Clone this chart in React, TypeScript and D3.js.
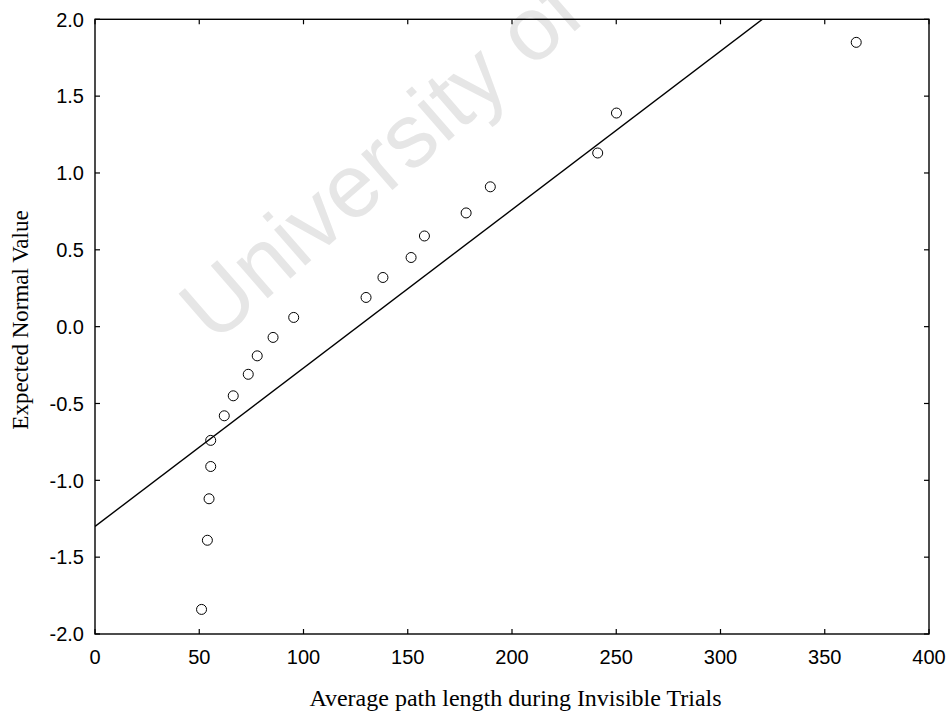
import React from "react";
import * as d3 from "d3";

// average path length (x) vs expected normal value (y)
const pathLength = [51.1, 53.9, 54.7, 55.5, 55.5, 62.0, 66.3, 73.5, 77.8, 85.4, 95.3, 130.0, 138.1, 151.6, 158.0, 178.0, 189.6, 241.1, 250.1, 365.1];
const expectedNormal = [-1.84, -1.39, -1.12, -0.91, -0.74, -0.58, -0.45, -0.31, -0.19, -0.07, 0.06, 0.19, 0.32, 0.45, 0.59, 0.74, 0.91, 1.13, 1.39, 1.85];

const fitIntercept = -1.30;
const fitSlope = 0.01031;

const xTicks = [0, 50, 100, 150, 200, 250, 300, 350, 400];
const yTicks = [-2.0, -1.5, -1.0, -0.5, 0.0, 0.5, 1.0, 1.5, 2.0];

const xTitle = "Average path length during Invisible Trials";
const yTitle = "Expected Normal Value";
const watermark = "University of Cape Town";

const width = 949, height = 714;
const left = 95, right = 929, top = 19.3, bottom = 634;
const tickLen = 5;

const App = () => {
    const xScale = d3.scaleLinear().domain([0, 400]).range([left, right]);
    const yScale = d3.scaleLinear().domain([-2, 2]).range([bottom, top]);

    const fitPts: [number, number][] = [0, 400].map(v => [v, fitIntercept + fitSlope * v]);
    const lineGen = d3.line<[number, number]>()
        .x(d => xScale(d[0]))
        .y(d => yScale(d[1]));

    const points = pathLength.map((v, i) => ({ x: v, y: expectedNormal[i] }));

    const tickFont = "'Liberation Sans', Arial, sans-serif";
    const titleFont = "'Liberation Serif', 'Times New Roman', serif";

    return (
        <svg width={width} height={height} style={{ position: "absolute", left: 0, top: 0, background: "#fff" }}>
            <defs>
                <clipPath id="plot-clip">
                    <rect x={left} y={top} width={right - left} height={bottom - top} />
                </clipPath>
            </defs>
            <text
                transform="translate(214,345) rotate(-41)"
                fontFamily={tickFont}
                fontSize={90}
                fill="#e6e6e6"
            >{watermark}</text>

            <path d={lineGen(fitPts) ?? ""} fill="none" stroke="#000" strokeWidth={1.4} clipPath="url(#plot-clip)" />

            {points.map((p, i) => (
                <circle key={i} cx={xScale(p.x)} cy={yScale(p.y)} r={5} fill="none" stroke="#000" strokeWidth={1} />
            ))}

            <rect x={left} y={top} width={right - left} height={bottom - top} fill="none" stroke="#000" strokeWidth={1.4} />

            {xTicks.map(t => (
                <g key={"x" + t}>
                    <line x1={xScale(t)} x2={xScale(t)} y1={bottom} y2={bottom - tickLen} stroke="#000" strokeWidth={1.2} />
                    <line x1={xScale(t)} x2={xScale(t)} y1={top} y2={top + tickLen} stroke="#000" strokeWidth={1.2} />
                    <text x={xScale(t)} y={664} textAnchor="middle" fontFamily={tickFont} fontSize={20} fill="#000">{t}</text>
                </g>
            ))}
            {yTicks.map(t => (
                <g key={"y" + t}>
                    <line x1={left} x2={left + tickLen} y1={yScale(t)} y2={yScale(t)} stroke="#000" strokeWidth={1.2} />
                    <line x1={right} x2={right - tickLen} y1={yScale(t)} y2={yScale(t)} stroke="#000" strokeWidth={1.2} />
                    <text x={84} y={yScale(t)} dy="0.36em" textAnchor="end" fontFamily={tickFont} fontSize={20} fill="#000">{t.toFixed(1)}</text>
                </g>
            ))}

            <text x={(306 + 725) / 2} y={706} textAnchor="middle" fontFamily={titleFont} fontSize={24} fill="#000">{xTitle}</text>
            <text transform="translate(28,320) rotate(-90)" textAnchor="middle" fontFamily={titleFont} fontSize={23} fill="#000">{yTitle}</text>
        </svg>
    );
};

export default App;
